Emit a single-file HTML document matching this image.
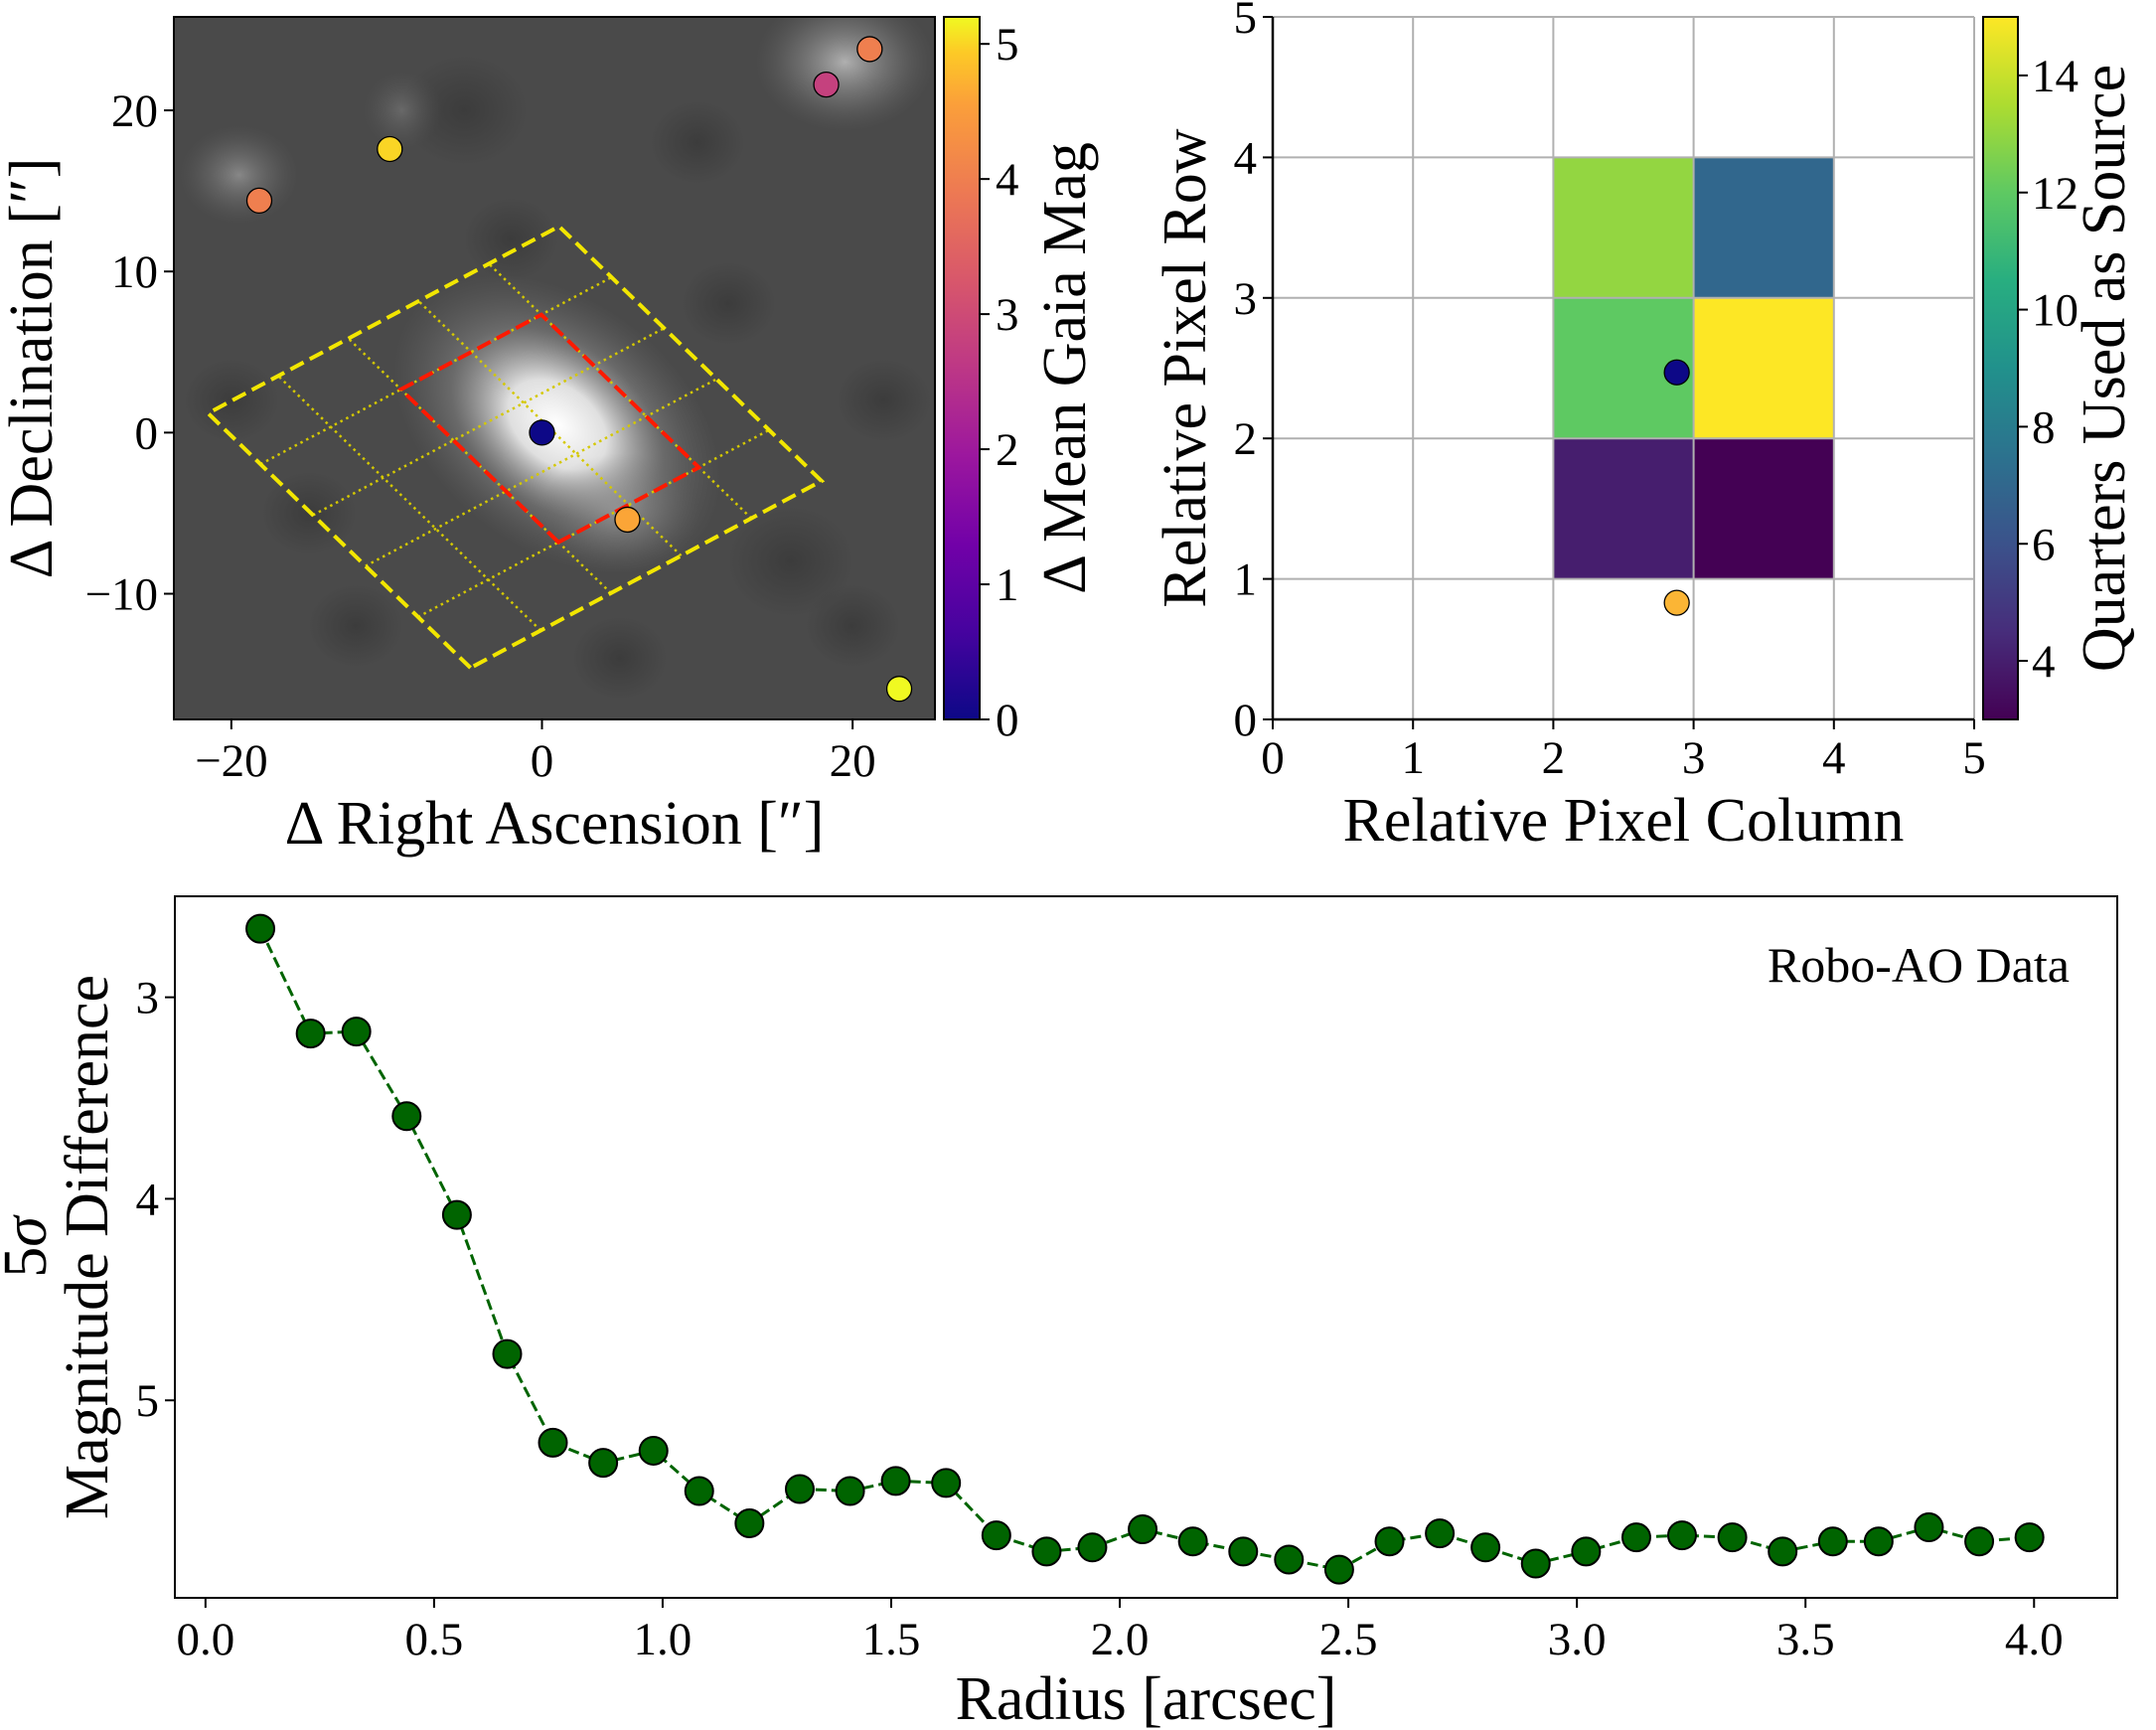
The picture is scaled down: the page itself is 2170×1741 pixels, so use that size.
<!DOCTYPE html>
<html><head><meta charset="utf-8"><style>
html,body{margin:0;padding:0;background:#fff;width:2170px;height:1741px;overflow:hidden}
svg{display:block}
svg text{font-family:"Liberation Serif","DejaVu Serif",serif}
</style></head><body>
<svg id="fig" width="2170" height="1741" viewBox="0 0 2170 1741" xmlns="http://www.w3.org/2000/svg" font-family="Liberation Serif, serif">
<defs>
<linearGradient id="plasma2" x1="0" y1="1" x2="0" y2="0">
<stop offset="0" stop-color="#0d0887"/><stop offset="0.125" stop-color="#46039f"/><stop offset="0.25" stop-color="#7201a8"/><stop offset="0.375" stop-color="#9c179e"/><stop offset="0.5" stop-color="#bd3786"/><stop offset="0.625" stop-color="#d8576b"/><stop offset="0.75" stop-color="#ed7953"/><stop offset="0.875" stop-color="#fb9f3a"/><stop offset="0.95" stop-color="#fdca26"/><stop offset="1" stop-color="#f0f921"/>
</linearGradient>
<linearGradient id="viridis" x1="0" y1="1" x2="0" y2="0">
<stop offset="0" stop-color="#440154"/><stop offset="0.125" stop-color="#472d7b"/><stop offset="0.25" stop-color="#3b528b"/><stop offset="0.375" stop-color="#2c728e"/><stop offset="0.5" stop-color="#21918c"/><stop offset="0.625" stop-color="#28ae80"/><stop offset="0.75" stop-color="#5ec962"/><stop offset="0.875" stop-color="#addc30"/><stop offset="1" stop-color="#fde725"/>
</linearGradient>
<radialGradient id="blobMain"><stop offset="0" stop-color="#fff" stop-opacity="1"/><stop offset="0.3" stop-color="#f0f0f0" stop-opacity="0.9"/><stop offset="0.65" stop-color="#999" stop-opacity="0.4"/><stop offset="1" stop-color="#777" stop-opacity="0"/></radialGradient>
<radialGradient id="blobSmall"><stop offset="0" stop-color="#bbb" stop-opacity="0.9"/><stop offset="0.6" stop-color="#888" stop-opacity="0.4"/><stop offset="1" stop-color="#666" stop-opacity="0"/></radialGradient>
<radialGradient id="blobDark"><stop offset="0" stop-color="#222" stop-opacity="0.7"/><stop offset="1" stop-color="#222" stop-opacity="0"/></radialGradient>
<clipPath id="clip1"><rect x="175" y="17" width="766" height="707"/></clipPath>
</defs>
</svg>
<script>
// ---------- Panel 1 data (arcsec) ----------
const starRA   = [-18.2, -9.8, 18.3, 21.1, 23.0, 5.5, 0.0];
const starDec  = [14.4, 17.6, 21.6, 23.8, -15.9, -5.4, 0.0];
const starMag  = [4.0, 5.0, 2.8, 4.0, 5.2, 4.6, 0.0];
const outerCorners = [[-4.6,-14.6],[-21.5,1.2],[1.2,13.0],[18.0,-3.0]];
const p1XTicks = [-20, 0, 20];
const p1YTicks = [-10, 0, 10, 20];
const cb1Ticks = [0, 1, 2, 3, 4, 5];
// ---------- Panel 2 data ----------
const cellCols = [2, 3, 2, 3, 2, 3];
const cellRows = [3, 3, 2, 2, 1, 1];
const cellVals = [13, 7, 12, 15, 4, 3];
const pixDotCol = [2.88, 2.88];
const pixDotRow = [2.47, 0.83];
const pixDotColor = ['#0d0887', '#fbb535'];
const p2Ticks = [0, 1, 2, 3, 4, 5];
const cb2Ticks = [4, 6, 8, 10, 12, 14];
// ---------- Panel 3 data ----------
const radius = [0.12,0.23,0.33,0.44,0.55,0.66,0.76,0.87,0.98,1.08,1.19,1.30,1.41,1.51,1.62,1.73,1.84,1.94,2.05,2.16,2.27,2.37,2.48,2.59,2.70,2.80,2.91,3.02,3.13,3.23,3.34,3.45,3.56,3.66,3.77,3.88,3.99];
const contrast = [2.66,3.18,3.17,3.59,4.08,4.77,5.21,5.31,5.25,5.45,5.61,5.44,5.45,5.40,5.41,5.67,5.75,5.73,5.64,5.70,5.75,5.79,5.84,5.70,5.66,5.73,5.81,5.75,5.68,5.67,5.68,5.75,5.70,5.70,5.63,5.70,5.68];
const p3XTicks = [0.0,0.5,1.0,1.5,2.0,2.5,3.0,3.5,4.0];
const p3YTicks = [3, 4, 5];

const NS='http://www.w3.org/2000/svg';
const fig=document.getElementById('fig');
const TF='Liberation Serif, DejaVu Serif, serif';
function mk(tag, attrs, parent, text){
  const e=document.createElementNS(NS,tag);
  for(const k in attrs) e.setAttribute(k, attrs[k]);
  if(tag==='text') e.setAttribute('font-family', TF);
  if(text!==undefined) e.textContent=text;
  (parent||fig).appendChild(e); return e;
}
function lerpColor(stops, t){
  t=Math.max(0,Math.min(1,t));
  for(let i=0;i<stops.length-1;i++){
    if(t<=stops[i+1][0]){
      const a=stops[i],b=stops[i+1],f=(t-a[0])/(b[0]-a[0]||1);
      const ca=a[1].match(/\w\w/g).map(h=>parseInt(h,16)),cb=b[1].match(/\w\w/g).map(h=>parseInt(h,16));
      return 'rgb('+ca.map((v,j)=>Math.round(v+(cb[j]-v)*f)).join(',')+')';
    }
  }
  return stops[stops.length-1][1];
}
const plasmaStops=[[0,'#0d0887'],[0.125,'#46039f'],[0.25,'#7201a8'],[0.375,'#9c179e'],[0.5,'#bd3786'],[0.625,'#d8576b'],[0.75,'#ed7953'],[0.875,'#fb9f3a'],[0.95,'#fdca26'],[1,'#f0f921']];
const viridisStops=[[0,'#440154'],[0.125,'#472d7b'],[0.25,'#3b528b'],[0.375,'#2c728e'],[0.5,'#21918c'],[0.625,'#28ae80'],[0.75,'#5ec962'],[0.875,'#addc30'],[1,'#fde725']];
const TS=47, LS=62;

// ================= Panel 1 =================
const A1={l:175,r:941,t:17,b:724,x0:-23.7,x1:25.3,y0:-17.8,y1:25.8};
const sx1=v=>A1.l+(v-A1.x0)/(A1.x1-A1.x0)*(A1.r-A1.l);
const sy1=v=>A1.b-(v-A1.y0)/(A1.y1-A1.y0)*(A1.b-A1.t);
const g1=mk('g',{'clip-path':'url(#clip1)'});


mk('rect',{x:A1.l,y:A1.t,width:A1.r-A1.l,height:A1.b-A1.t,fill:'#4a4a4a'},g1);
[[-5,20,4],[12,8,3],[16,-8,4],[-12,-12,3],[5,-14,3],[-20,2,3],[22,2,3],[-2,12,3],[10,18,3],[-15,-5,3],[20,-12,3]].forEach(d=>{
  mk('ellipse',{cx:sx1(d[0]),cy:sy1(d[1]),rx:d[2]*16,ry:d[2]*14,fill:'url(#blobDark)',opacity:0.5},g1);
});
mk('ellipse',{cx:sx1(19.5),cy:sy1(23),rx:90,ry:70,fill:'url(#blobSmall)'},g1);
mk('ellipse',{cx:sx1(-19.5),cy:sy1(16),rx:60,ry:50,fill:'url(#blobSmall)',opacity:0.6},g1);
mk('ellipse',{cx:sx1(-9),cy:sy1(20),rx:40,ry:40,fill:'url(#blobSmall)',opacity:0.3},g1);
mk('ellipse',{cx:sx1(1),cy:sy1(0.5),rx:185,ry:125,fill:'url(#blobMain)',transform:`rotate(38 ${sx1(1)} ${sy1(0.5)})`},g1);
mk('ellipse',{cx:sx1(5),cy:sy1(-5),rx:80,ry:60,fill:'url(#blobSmall)',opacity:0.5},g1);
// aperture grid
const B=outerCorners[0],L=outerCorners[1],R=outerCorners[3];
const P=(a,b)=>[B[0]+a*(L[0]-B[0])+b*(R[0]-B[0]),B[1]+a*(L[1]-B[1])+b*(R[1]-B[1])];
const pt=p=>sx1(p[0])+','+sy1(p[1]);
for(let i=1;i<5;i++){
  const f=i/5;
  const ln1=mk('line',{x1:sx1(P(f,0)[0]),y1:sy1(P(f,0)[1]),x2:sx1(P(f,1)[0]),y2:sy1(P(f,1)[1]),stroke:'#d4c800','stroke-width':2.5,'stroke-dasharray':'2.5 4'},g1);
  
  
  const ln2=mk('line',{x1:sx1(P(0,f)[0]),y1:sy1(P(0,f)[1]),x2:sx1(P(1,f)[0]),y2:sy1(P(1,f)[1]),stroke:'#d4c800','stroke-width':2.5,'stroke-dasharray':'2.5 4'},g1);
  
  
}
const outer=mk('polygon',{points:[P(0,0),P(1,0),P(1,1),P(0,1)].map(pt).join(' '),fill:'none',stroke:'#f2e600','stroke-width':4,'stroke-dasharray':'15 7'},g1);


const ap=[Math.min(...cellRows), Math.max(...cellRows)+1, Math.min(...cellCols), Math.max(...cellCols)+1];
const red=mk('polygon',{points:[P(ap[0]/5,ap[2]/5),P(ap[1]/5,ap[2]/5),P(ap[1]/5,ap[3]/5),P(ap[0]/5,ap[3]/5)].map(pt).join(' '),fill:'none',stroke:'#ff1a00','stroke-width':4,'stroke-dasharray':'15 7'},g1);


for(let i=0;i<starRA.length;i++){
  const c=mk('circle',{cx:sx1(starRA[i]),cy:sy1(starDec[i]),r:12.5,fill:lerpColor(plasmaStops,starMag[i]/5.2),stroke:'#000','stroke-width':1.3},g1);
  
  
}
const fr1=mk('rect',{x:A1.l,y:A1.t,width:A1.r-A1.l,height:A1.b-A1.t,fill:'none',stroke:'#000','stroke-width':2});


p1XTicks.forEach(v=>{
  mk('line',{x1:sx1(v),x2:sx1(v),y1:A1.b,y2:A1.b+10,stroke:'#000','stroke-width':2});
  const t=mk('text',{x:sx1(v),y:A1.b+57,'font-size':TS,'text-anchor':'middle'},fig,v<0?'\u2212'+(-v):String(v));
  
  
});
p1YTicks.forEach(v=>{
  mk('line',{x1:A1.l-10,x2:A1.l,y1:sy1(v),y2:sy1(v),stroke:'#000','stroke-width':2});
  const t=mk('text',{x:A1.l-16,y:sy1(v)+16,'font-size':TS,'text-anchor':'end'},fig,v<0?'\u2212'+(-v):String(v));
  
  
});
let t1=mk('text',{x:(A1.l+A1.r)/2,y:849,'font-size':LS,'text-anchor':'middle'},fig,'\u0394 Right Ascension [\u2033]');


t1=mk('text',{x:0,y:0,'font-size':LS,'text-anchor':'middle',transform:`translate(52 ${(A1.t+A1.b)/2}) rotate(-90)`},fig,'\u0394 Declination [\u2033]');


// colorbar 1
const CB1={l:950,r:986,t:17,b:724,v0:0,v1:5.2};
const cy1=v=>CB1.b-(v-CB1.v0)/(CB1.v1-CB1.v0)*(CB1.b-CB1.t);
const cb1=mk('rect',{x:CB1.l,y:CB1.t,width:CB1.r-CB1.l,height:CB1.b-CB1.t,fill:'url(#plasma2)',stroke:'#000','stroke-width':2});


cb1Ticks.forEach(v=>{
  mk('line',{x1:CB1.r,x2:CB1.r+10,y1:cy1(v),y2:cy1(v),stroke:'#000','stroke-width':2});
  const t=mk('text',{x:CB1.r+16,y:cy1(v)+16,'font-size':TS},fig,String(v));
  
  
});
t1=mk('text',{x:0,y:0,'font-size':LS,'text-anchor':'middle',transform:`translate(1092 ${(CB1.t+CB1.b)/2}) rotate(-90)`},fig,'\u0394 Mean Gaia Mag');



// ================= Panel 2 =================
const A2={l:1281,r:1987,t:17,b:724,x0:0,x1:5,y0:0,y1:5};
const sx2=v=>A2.l+(v-A2.x0)/(A2.x1-A2.x0)*(A2.r-A2.l);
const sy2=v=>A2.b-(v-A2.y0)/(A2.y1-A2.y0)*(A2.b-A2.t);
for(let i=0;i<cellVals.length;i++){
  const r=mk('rect',{x:sx2(cellCols[i]),y:sy2(cellRows[i]+1),width:sx2(cellCols[i]+1)-sx2(cellCols[i]),height:sy2(cellRows[i])-sy2(cellRows[i]+1),fill:lerpColor(viridisStops,(cellVals[i]-3)/12)});
  
  
}
p2Ticks.forEach(v=>{
  mk('line',{x1:sx2(v),x2:sx2(v),y1:A2.t,y2:A2.b,stroke:'#b0b0b0','stroke-width':2});
  mk('line',{x1:A2.l,x2:A2.r,y1:sy2(v),y2:sy2(v),stroke:'#b0b0b0','stroke-width':2});
});
for(let i=0;i<pixDotCol.length;i++){
  const c=mk('circle',{cx:sx2(pixDotCol[i]),cy:sy2(pixDotRow[i]),r:12.5,fill:pixDotColor[i],stroke:'#000','stroke-width':1.3});
  
  
}
mk('line',{x1:A2.l,x2:A2.l,y1:A2.t,y2:A2.b,stroke:'#000','stroke-width':2.5});
mk('line',{x1:A2.l,x2:A2.r,y1:A2.b,y2:A2.b,stroke:'#000','stroke-width':2.5});
p2Ticks.forEach(v=>{
  mk('line',{x1:sx2(v),x2:sx2(v),y1:A2.b,y2:A2.b+10,stroke:'#000','stroke-width':2});
  let t=mk('text',{x:sx2(v),y:A2.b+54,'font-size':TS,'text-anchor':'middle'},fig,String(v));
  
  
  mk('line',{x1:A2.l-10,x2:A2.l,y1:sy2(v),y2:sy2(v),stroke:'#000','stroke-width':2});
  t=mk('text',{x:A2.l-16,y:sy2(v)+16,'font-size':TS,'text-anchor':'end'},fig,String(v));
  
  
});
t1=mk('text',{x:(A2.l+A2.r)/2,y:846,'font-size':LS,'text-anchor':'middle'},fig,'Relative Pixel Column');


t1=mk('text',{x:0,y:0,'font-size':LS,'text-anchor':'middle',transform:`translate(1213 ${(A2.t+A2.b)/2}) rotate(-90)`},fig,'Relative Pixel Row');


const CB2={l:1996,r:2031,t:17,b:724,v0:3,v1:15};
const cy2=v=>CB2.b-(v-CB2.v0)/(CB2.v1-CB2.v0)*(CB2.b-CB2.t);
const cb2=mk('rect',{x:CB2.l,y:CB2.t,width:CB2.r-CB2.l,height:CB2.b-CB2.t,fill:'url(#viridis)',stroke:'#000','stroke-width':2});


cb2Ticks.forEach(v=>{
  mk('line',{x1:CB2.r,x2:CB2.r+10,y1:cy2(v),y2:cy2(v),stroke:'#000','stroke-width':2});
  const t=mk('text',{x:CB2.r+14,y:cy2(v)+16,'font-size':TS},fig,String(v));
  
  
});
t1=mk('text',{x:0,y:0,'font-size':LS,'text-anchor':'middle',transform:`translate(2138 ${(CB2.t+CB2.b)/2}) rotate(-90)`},fig,'Quarters Used as Source');



// ================= Panel 3 =================
const A3={l:176,r:2131,t:902,b:1608,x0:-0.067,x1:4.182,y0:2.499,y1:5.98};
const sx3=v=>A3.l+(v-A3.x0)/(A3.x1-A3.x0)*(A3.r-A3.l);
const sy3=v=>A3.t+(v-A3.y0)/(A3.y1-A3.y0)*(A3.b-A3.t);
const fr3=mk('rect',{x:A3.l,y:A3.t,width:A3.r-A3.l,height:A3.b-A3.t,fill:'none',stroke:'#000','stroke-width':2});


const line=mk('polyline',{points:radius.map((x,i)=>sx3(x)+','+sy3(contrast[i])).join(' '),fill:'none',stroke:'#006400','stroke-width':3,'stroke-dasharray':'11 5'});


for(let i=0;i<radius.length;i++){
  const c=mk('circle',{cx:sx3(radius[i]),cy:sy3(contrast[i]),r:14,fill:'#006400',stroke:'#000','stroke-width':2});
  
  
}
p3XTicks.forEach(v=>{
  mk('line',{x1:sx3(v),x2:sx3(v),y1:A3.b,y2:A3.b+10,stroke:'#000','stroke-width':2});
  const t=mk('text',{x:sx3(v),y:A3.b+57,'font-size':TS,'text-anchor':'middle'},fig,v.toFixed(1));
  
  
});
p3YTicks.forEach(v=>{
  mk('line',{x1:A3.l-10,x2:A3.l,y1:sy3(v),y2:sy3(v),stroke:'#000','stroke-width':2});
  const t=mk('text',{x:A3.l-16,y:sy3(v)+16,'font-size':TS,'text-anchor':'end'},fig,String(v));
  
  
});
t1=mk('text',{x:(A3.l+A3.r)/2,y:1730,'font-size':LS,'text-anchor':'middle'},fig,'Radius [arcsec]');


t1=mk('text',{x:0,y:0,'font-size':LS,'text-anchor':'middle',transform:`translate(108 ${(A3.t+A3.b)/2}) rotate(-90)`},fig,'Magnitude Difference');


t1=mk('text',{x:0,y:0,'font-size':LS,'text-anchor':'middle',transform:`translate(46 ${(A3.t+A3.b)/2}) rotate(-90)`},fig,'5');


const sig=mk('tspan',{'font-style':'italic'},t1,'\u03c3');
t1=mk('text',{x:2083,y:988,'font-size':50,'text-anchor':'end'},fig,'Robo-AO Data');


</script>
</body></html>
